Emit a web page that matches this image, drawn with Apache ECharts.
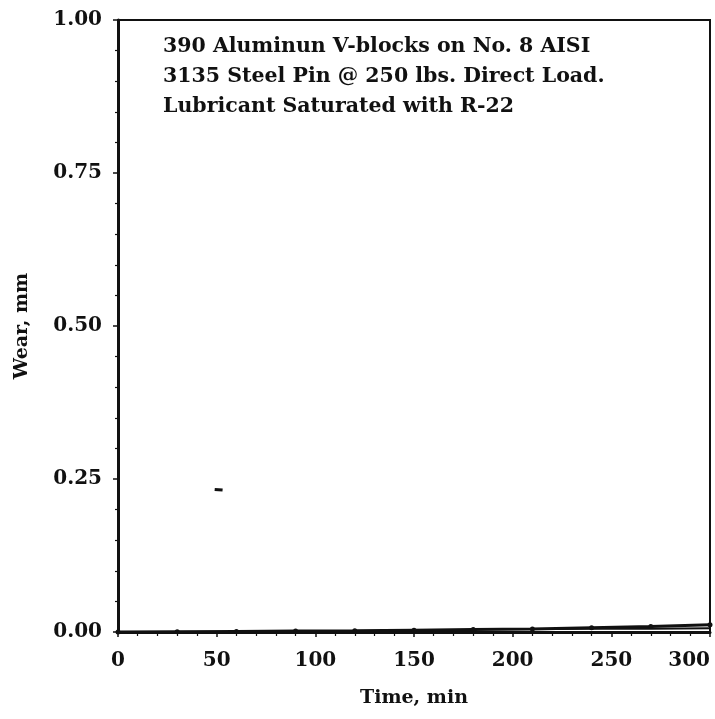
<!DOCTYPE html>
<html><head><meta charset="utf-8">
<script src="https://cdn.jsdelivr.net/npm/echarts@6/dist/echarts.min.js"></script>
<style>html,body{margin:0;padding:0;background:#fff}#c{width:715px;height:719px}</style>
</head><body><div id="c"></div>
<script>
const timeMin = [0, 30, 60, 90, 120, 150, 180, 210, 240, 270, 300];
const wearUpper = [0, 0.0005, 0.001, 0.0015, 0.002, 0.003, 0.004, 0.005, 0.007, 0.009, 0.012];
const wearLowerTime = [220, 240, 270, 300];
const wearLower = [0.005, 0.0055, 0.0055, 0.006];
const strayTime = [49, 53];
const strayWear = [0.233, 0.232];
const xTicks = [0, 50, 100, 150, 200, 250, 300];
const yTicks = [0, 0.25, 0.5, 0.75, 1.0];
const noteLines = ['390 Aluminun V-blocks on No. 8 AISI', '3135 Steel Pin @ 250 lbs. Direct Load.', 'Lubricant Saturated with R-22'];

const font = '"DejaVu Serif", "Liberation Serif", serif';
const chart = echarts.init(document.getElementById('c'));
chart.setOption({
  animation: false,
  backgroundColor: '#fff',
  title: {
    text: noteLines.join('\n'), left: 158, top: 27,
    textStyle: {fontFamily: font, fontWeight: 'bold', fontSize: 20.5, lineHeight: 30, color: '#111'}
  },
  grid: {left: 118, right: 5, top: 20, bottom: 87, outerBoundsMode: 'none', containLabel: false,
    show: true, borderColor: '#111', borderWidth: 2},
  xAxis: {
    type: 'value', min: xTicks[0], max: xTicks[xTicks.length - 1], interval: 50,
    name: 'Time, min', nameLocation: 'middle', nameGap: 57,
    nameTextStyle: {fontFamily: font, fontWeight: 'bold', fontSize: 19, color: '#111'},
    axisLine: {show: true, lineStyle: {color: '#111', width: 3}},
    axisTick: {show: true, inside: false, length: 5, lineStyle: {color: '#111', width: 1.5}},
    minorTick: {show: true, splitNumber: 5, length: 4, lineStyle: {color: '#111', width: 1.2}},
    splitLine: {show: false},
    axisLabel: {fontFamily: font, fontWeight: 'bold', fontSize: 20, color: '#111', margin: 19,
      alignMaxLabel: 'right'}
  },
  yAxis: {
    type: 'value', min: yTicks[0], max: yTicks[yTicks.length - 1], interval: 0.25,
    name: 'Wear, mm', nameLocation: 'middle', nameGap: 86, nameRotate: 90,
    nameTextStyle: {fontFamily: font, fontWeight: 'bold', fontSize: 19, color: '#111'},
    axisLine: {show: true, lineStyle: {color: '#111', width: 3}},
    axisTick: {show: true, inside: false, length: 5, lineStyle: {color: '#111', width: 1.5}},
    minorTick: {show: true, splitNumber: 5, length: 3, lineStyle: {color: '#111', width: 1.2}},
    splitLine: {show: false},
    axisLabel: {fontFamily: font, fontWeight: 'bold', fontSize: 20, color: '#111', margin: 16,
      formatter: v => v.toFixed(2)}
  },
  series: [
    {type: 'line', data: timeMin.map((t, i) => [t, wearUpper[i]]), symbol: 'circle', symbolSize: 5,
      itemStyle: {color: '#111'}, lineStyle: {color: '#111', width: 3}},
    {type: 'line', data: wearLowerTime.map((t, i) => [t, wearLower[i]]), symbol: 'none',
      lineStyle: {color: '#111', width: 2}},
    {type: 'line', data: strayTime.map((t, i) => [t, strayWear[i]]), symbol: 'none',
      lineStyle: {color: '#111', width: 3}}
  ]
});
</script></body></html>
